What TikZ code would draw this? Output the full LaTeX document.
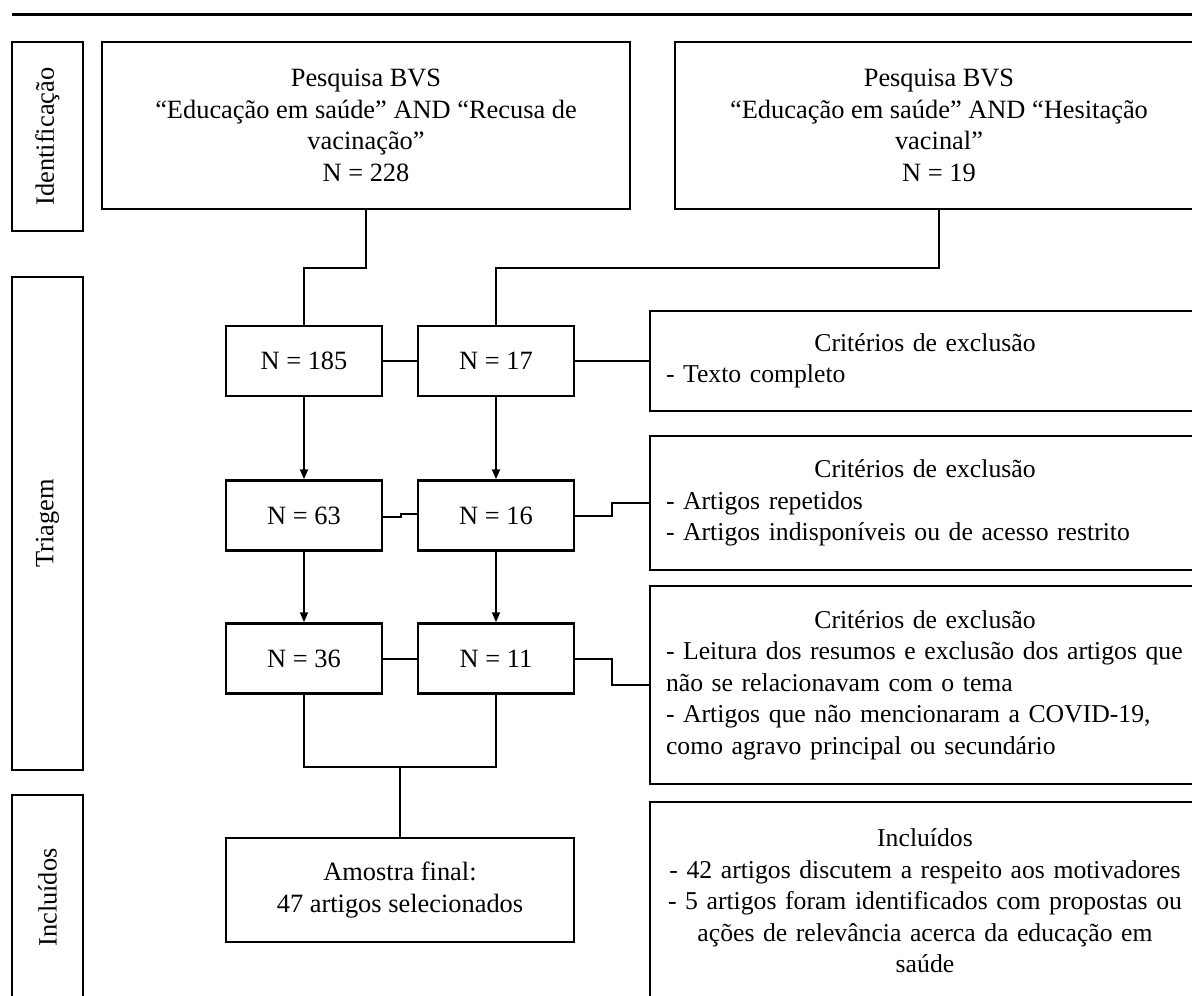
\documentclass[tikz,border=0pt]{standalone}
\usepackage{fontspec}
\setmainfont{Liberation Serif}
\usetikzlibrary{arrows.meta}
\newcommand\diagfont{\fontsize{26.4pt}{31.5pt}\selectfont}
\newcommand\critfont{\fontsize{25.7pt}{31.5pt}\selectfont}
\newcommand\flowCtr[1]{\makebox[\linewidth]{#1}}
\newcommand\flowLft[1]{\makebox[\linewidth][l]{#1}}
\tikzset{
  box/.style={draw, line width=2.5pt, inner sep=0pt, align=center, font=\diagfont},
  critbox/.style={draw, line width=2.5pt, inner sep=0pt, text width=518pt, align=left, font=\critfont},
  lab/.style={draw, line width=2.5pt, inner sep=0pt, rotate=90, font=\diagfont},
  conn/.style={line width=2pt},
  arr/.style={line width=2pt, -{Triangle[length=10pt,width=8pt]}}
}
\begin{document}
\begin{tikzpicture}[x={(1pt,0)}, y={(0,-1pt)}]
\useasboundingbox (0,0) rectangle (1192,996);
\clip (0,0) rectangle (1192,996);
\fill[white] (0,0) rectangle (1192,996);
% top rule
\draw[line width=3pt] (12,14) -- (1200,14);
% phase labels
\node[lab, minimum width=189pt, minimum height=71pt] (lid) at (47.5,136.5) {Identificação};
\node[lab, minimum width=493pt, minimum height=71pt] (ltr) at (47.5,523.5) {Triagem};
\node[lab, minimum width=205pt, minimum height=71pt] (lin) at (47.5,897.5) {Incluídos\hspace{8pt}};
% identification boxes
\node[box, minimum width=528pt, minimum height=167pt] (b1) at (366,125.5)
  {Pesquisa BVS\\“Educação em saúde” AND “Recusa de\\vacinação”\\N = 228};
\node[box, minimum width=528pt, minimum height=167pt] (b2) at (939,125.5)
  {Pesquisa BVS\\“Educação em saúde” AND “Hesitação\\vacinal”\\N = 19};
% screening boxes
\node[box, minimum width=156pt, minimum height=70pt] (n185) at (304,361) {N = 185};
\node[box, minimum width=156pt, minimum height=70pt] (n17) at (496,361) {N = 17};
\node[box, minimum width=156pt, minimum height=70pt] (n63) at (304,515.5) {N = 63};
\node[box, minimum width=156pt, minimum height=70pt] (n16) at (496,515.5) {N = 16};
\node[box, minimum width=156pt, minimum height=70pt] (n36) at (304,658.5) {N = 36};
\node[box, minimum width=156pt, minimum height=70pt] (n11) at (496,658.5) {N = 11};
\node[box, minimum width=348pt, minimum height=104pt] (am) at (400,890)
  {Amostra final:\\47 artigos selecionados};
% criteria boxes
\node[critbox, minimum width=550pt, minimum height=100pt] (c1) at (925,361)
  {\flowCtr{Critérios de exclusão}\\\flowLft{- Texto completo}};
\node[critbox, minimum width=550pt, minimum height=134pt] (c2) at (925,503)
  {\flowCtr{Critérios de exclusão}\\\flowLft{- Artigos repetidos}\\\flowLft{- Artigos indisponíveis ou de acesso restrito}};
\node[critbox, minimum width=550pt, minimum height=198pt] (c3) at (925,685)
  {\flowCtr{Critérios de exclusão}\\\flowLft{- Leitura dos resumos e exclusão dos artigos que}\\\flowLft{não se relacionavam com o tema}\\\flowLft{- Artigos que não mencionaram a COVID-19,}\\\flowLft{como agravo principal ou secundário}};
\node[critbox, minimum width=550pt, minimum height=198pt] (c4) at (925,901)
  {\flowCtr{Incluídos}\\\flowCtr{- 42 artigos discutem a respeito aos motivadores}\\\flowCtr{- 5 artigos foram identificados com propostas ou}\\\flowCtr{ações de relevância acerca da educação em}\\\flowCtr{saúde}};
% connectors
\draw[conn] (b1.south) -- ++(0,58) -| (n185.north);
\draw[conn] (b2.south) -- ++(0,58) -| (n17.north);
\draw[conn] (n185.east) -- (n17.west);
\draw[conn] (n17.east) -- (c1.west);
\draw[arr] (n185.south) -- (n63.north);
\draw[arr] (n17.south) -- (n16.north);
\draw[conn] ([yshift=-1.5pt]n63.east) -- ++(18,0) |- ([yshift=1.5pt]n16.west);
\draw[conn] (n16.east) -- ++(37,0) |- (c2.west);
\draw[arr] (n63.south) -- (n36.north);
\draw[arr] (n16.south) -- (n11.north);
\draw[conn] (n36.east) -- (n11.west);
\draw[conn] (n11.east) -- ++(37,0) |- (c3.west);
\draw[conn] (n36.south) -- ++(0,72) coordinate (jl) -| (n11.south);
\draw[conn] (am.north) -- (am.north |- jl);
\end{tikzpicture}
\end{document}
